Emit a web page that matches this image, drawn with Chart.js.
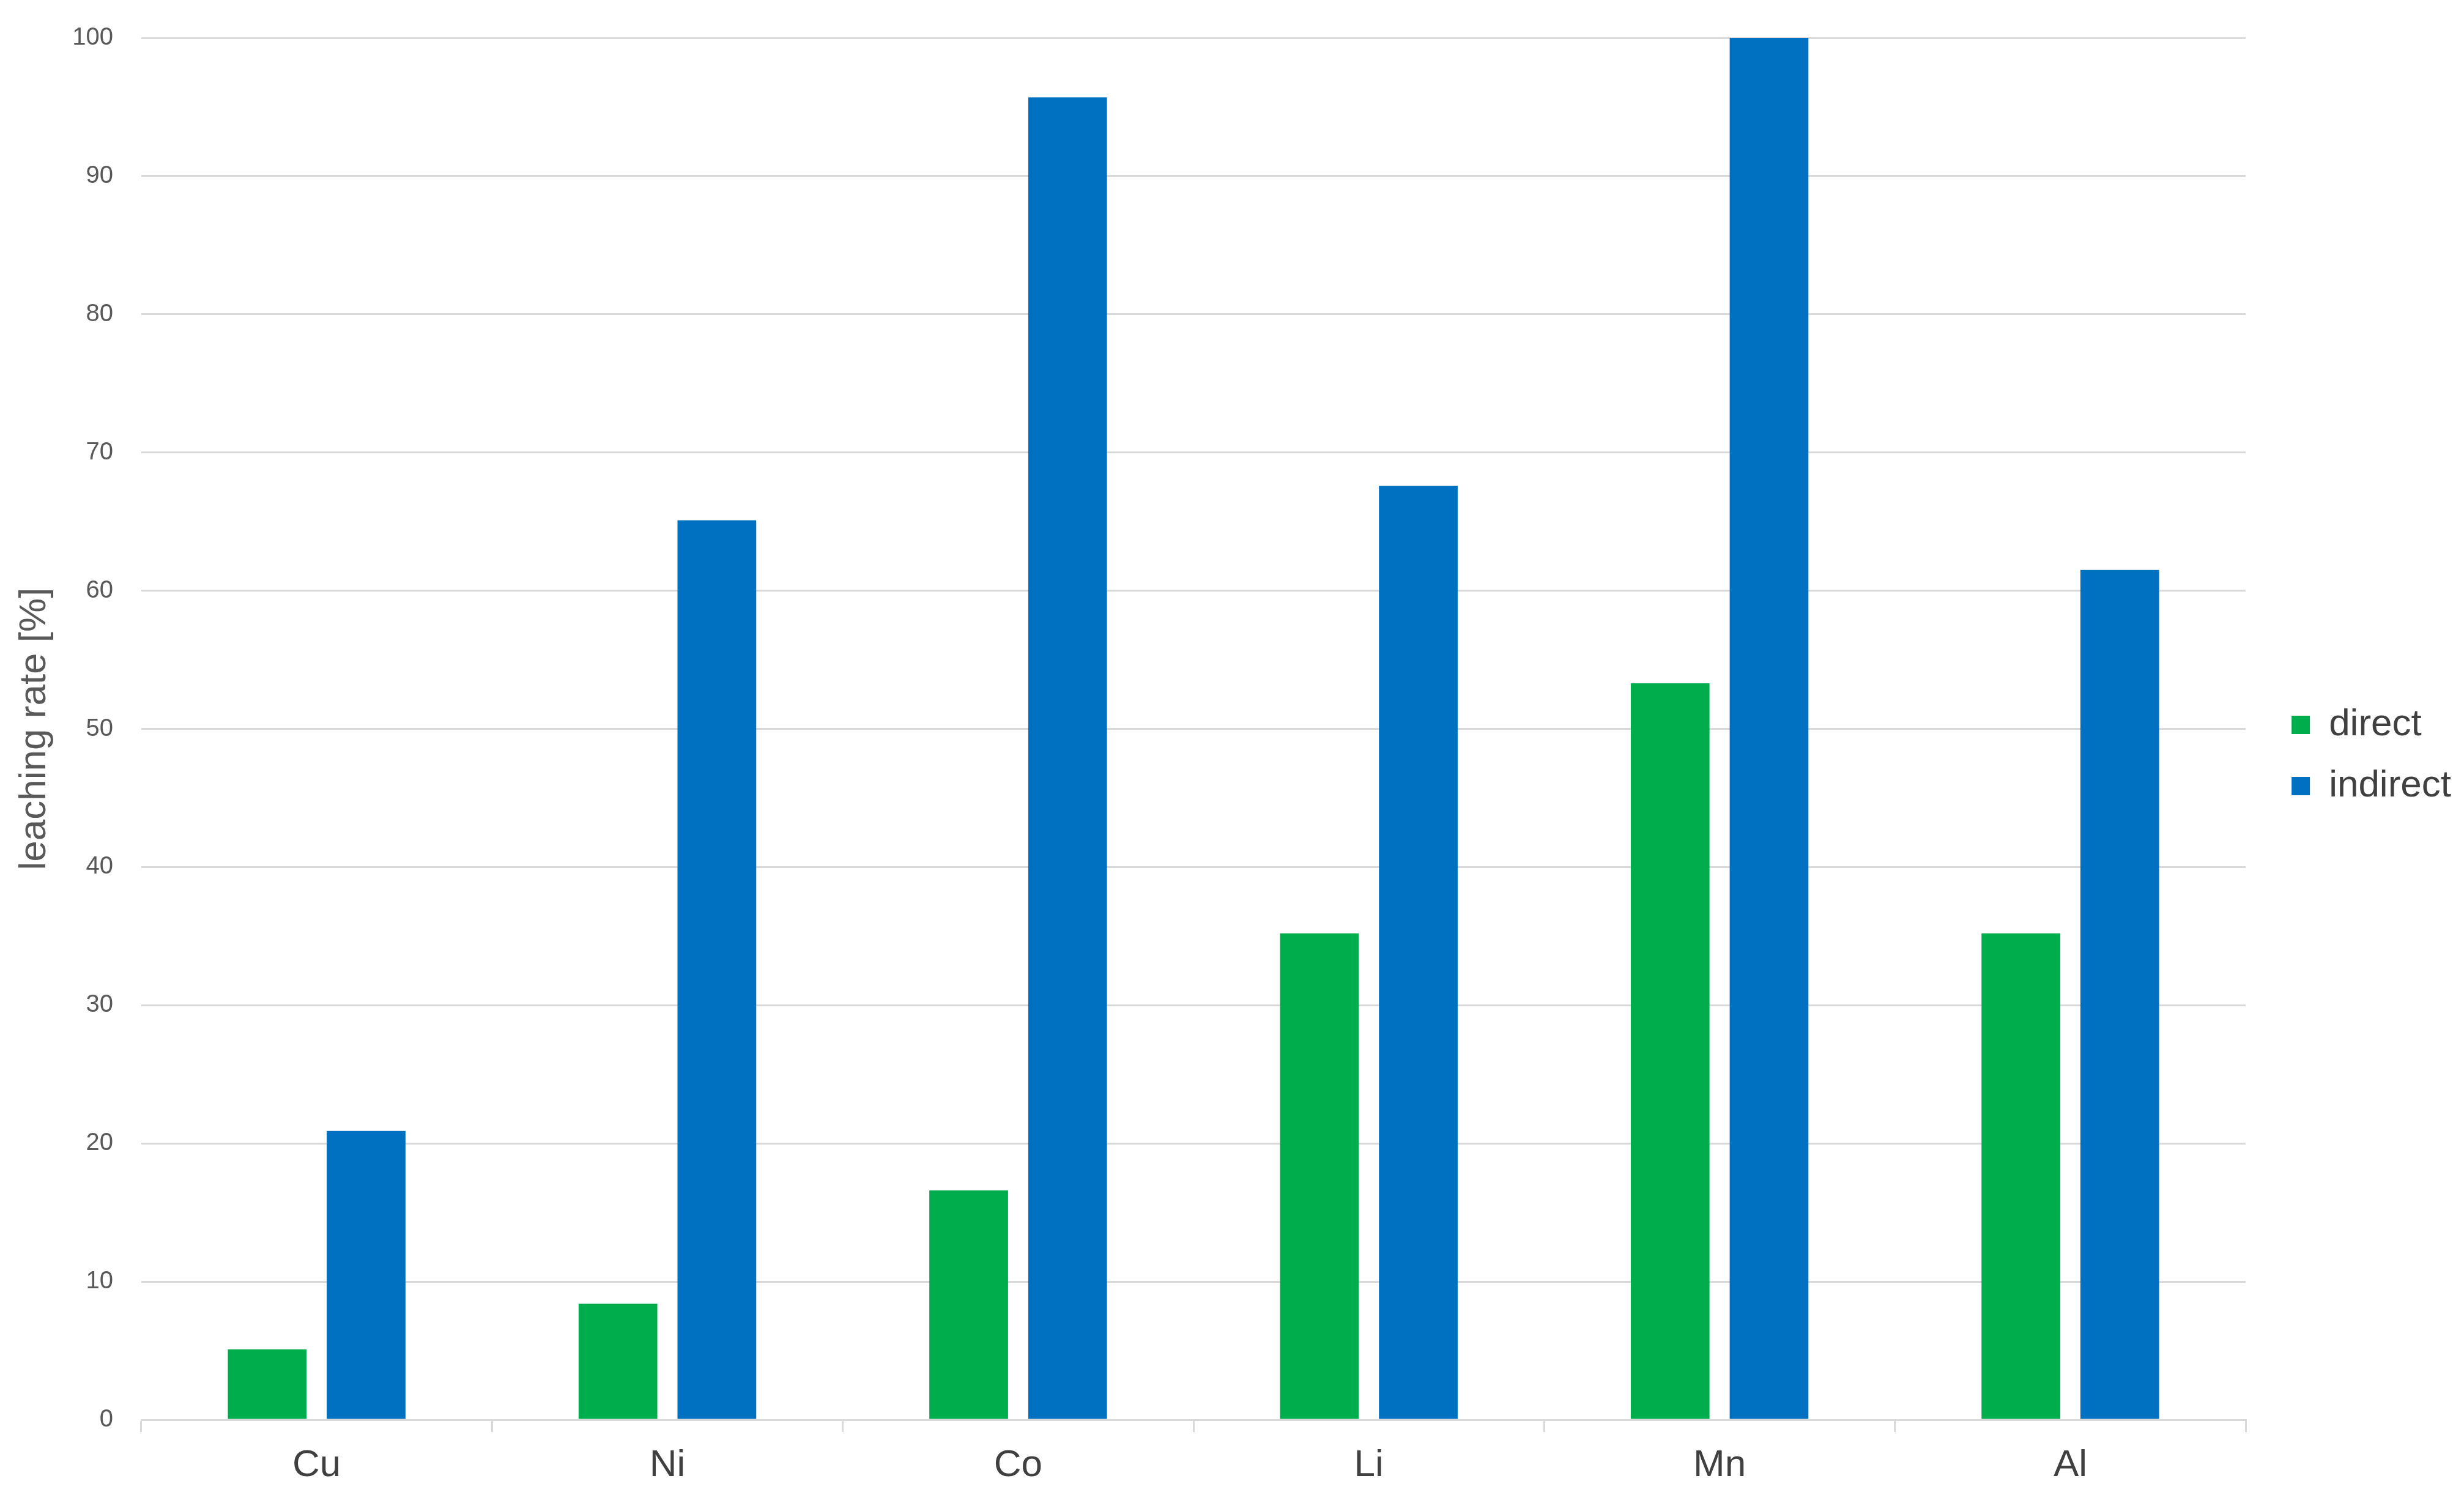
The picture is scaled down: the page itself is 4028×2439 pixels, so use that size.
<!DOCTYPE html>
<html>
<head>
<meta charset="utf-8">
<script src="https://cdn.jsdelivr.net/npm/chart.js@4.4.0/dist/chart.umd.min.js"></script>
<style>
  html, body { margin: 0; padding: 0; background: #fff; }
  #wrap { width: 4028px; height: 2439px; }
</style>
</head>
<body>
<div id="wrap"><canvas id="barChart"></canvas></div>
<script>
// leaching rate per element
const elements = ['Cu', 'Ni', 'Co', 'Li', 'Mn', 'Al'];
const directRate = [5.1, 8.4, 16.6, 35.2, 53.3, 35.2];
const indirectRate = [20.9, 65.1, 95.7, 67.6, 100, 61.5];
const yMin = 0;
const yMax = 100;
const yStep = 10;

const ctx = document.getElementById('barChart').getContext('2d');
new Chart(ctx, {
    type: 'bar',
    data: {
        labels: elements,
        datasets: [{
            label: 'direct',
            data: directRate,
            backgroundColor: '#00AD4C',
            borderWidth: 0
        }, {
            label: 'indirect',
            data: indirectRate,
            backgroundColor: '#0070C0',
            borderWidth: 0
        }]
    },
    options: {
        responsive: true,
        maintainAspectRatio: false,
        animation: false,
        categoryPercentage: 0.564,
        barPercentage: 0.796,
        layout: { padding: { top: 31, bottom: 0, left: 0, right: 11 } },
        plugins: {
            tooltip: { enabled: false },
            legend: {
                position: 'right',
                labels: {
                    font: { family: 'Liberation Sans', size: 62 },
                    color: '#404040',
                    boxWidth: 30,
                    boxHeight: 30,
                    padding: 38
                }
            }
        },
        scales: {
            x: {
                grid: {
                    display: true,
                    drawOnChartArea: false,
                    drawTicks: true,
                    tickLength: 20,
                    color: '#d9d9d9',
                    lineWidth: 3
                },
                border: { display: true, color: '#d9d9d9', width: 3 },
                ticks: {
                    font: { family: 'Liberation Sans', size: 62 },
                    color: '#404040',
                    padding: 18
                },
                afterFit: s => { s.height = 118; }
            },
            y: {
                min: yMin,
                max: yMax,
                ticks: {
                    stepSize: yStep,
                    font: { family: 'Liberation Sans', size: 40, lineHeight: 0.8 },
                    color: '#595959',
                    padding: 46
                },
                grid: { color: '#d9d9d9', lineWidth: 3, drawTicks: false },
                border: { display: false },
                title: {
                    display: true,
                    text: 'leaching rate [%]',
                    font: { family: 'Liberation Sans', size: 62 },
                    color: '#595959',
                    padding: { top: 20, bottom: 0 }
                },
                afterFit: s => { s.width = 231; }
            },
            // empty spacer between plot and legend
            gap: {
                type: 'linear',
                axis: 'y',
                position: 'right',
                grid: { display: false },
                ticks: { display: false },
                border: { display: false },
                afterFit: s => { s.width = 37; }
            }
        }
    }
});
</script>
</body>
</html>
